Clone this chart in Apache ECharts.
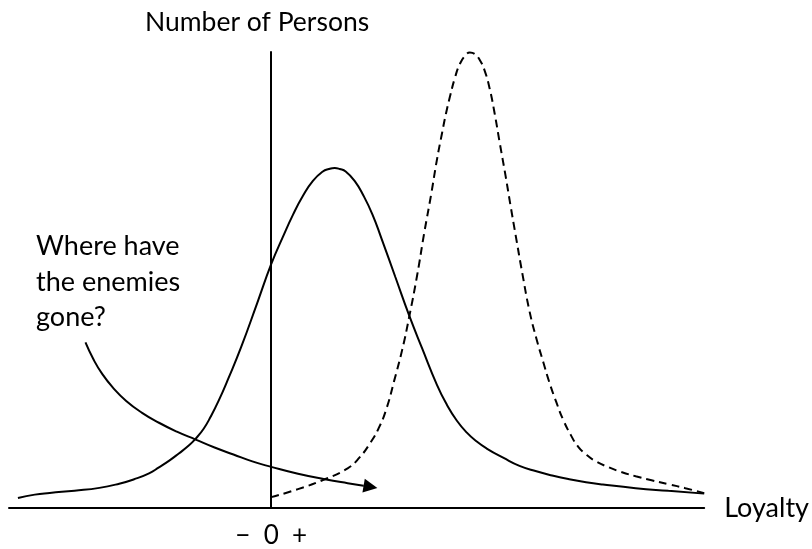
<!DOCTYPE html>
<html>
<head>
<meta charset="utf-8">
<script src="https://cdn.jsdelivr.net/npm/echarts@6/dist/echarts.min.js"></script>
<style>html,body{margin:0;padding:0;background:#fff}#c{width:812px;height:549px}</style>
</head>
<body>
<div id="c"></div>
<script>
// Loyalty distribution before (solid) and after (dashed)
var solidCurve = [
  [-25.5, 1.0], [-23.8, 1.35], [-22.3, 1.52], [-19.8, 1.75], [-17.3, 2.03], [-15.3, 2.45],
  [-13.8, 2.9], [-12.3, 3.5], [-11.3, 4.1], [-10.3, 4.75], [-9.3, 5.5], [-8.3, 6.3],
  [-7.6, 7.0], [-6.8, 8.0], [-6.1, 9.2], [-5.3, 10.8], [-4.3, 13.1], [-3.0, 16.3],
  [-1.4, 20.7], [0, 24.6], [1.2, 27.4], [2.2, 29.6], [3.2, 31.5], [4.2, 33.0],
  [5.2, 33.95], [5.8, 34.2], [6.4, 34.3], [6.9, 34.2], [7.5, 33.95], [8.4, 33.0],
  [9.3, 31.5], [10.2, 29.6], [11.1, 27.2], [12.5, 23.3], [13.9, 19.4], [15.2, 16.1],
  [16.7, 12.4], [17.7, 10.4], [18.7, 8.8], [19.7, 7.6], [20.7, 6.7], [21.7, 6.0],
  [23.4, 5.05], [25.0, 4.25], [26.7, 3.7], [28.4, 3.25], [30.0, 2.9], [31.7, 2.6],
  [33.4, 2.37], [36.7, 2.0], [40.0, 1.73], [43.6, 1.45]
];
var dashedCurve = [
  [0, 1.1], [2.7, 1.9], [5.4, 2.9], [7.7, 4.0], [8.9, 5.1], [10.0, 6.6],
  [10.8, 8.0], [11.6, 10.0], [12.4, 12.9], [13.2, 16.0], [13.9, 19.3], [14.7, 23.5],
  [15.4, 27.7], [16.1, 31.6], [16.7, 35.2], [17.2, 37.8], [17.6, 39.8], [18.0, 41.5],
  [18.5, 43.4], [19.0, 44.8], [19.5, 45.6], [20.0, 45.95], [20.5, 45.8], [21.0, 45.2],
  [21.5, 44.1], [22.0, 42.3], [22.5, 39.8], [23.0, 36.9], [23.6, 33.5], [24.1, 30.5],
  [24.6, 27.6], [25.3, 23.6], [26.0, 19.9], [26.7, 17.1], [27.4, 14.7], [28.0, 12.7],
  [28.7, 10.7], [29.4, 8.9], [30.2, 7.3], [30.9, 6.2], [31.7, 5.4], [32.7, 4.7],
  [34.0, 4.1], [35.2, 3.65], [36.7, 3.2], [38.3, 2.8], [40.0, 2.4], [41.7, 2.0],
  [43.6, 1.5]
];
var arrowPath = [
  [-18.7, 16.7], [-17.9, 15.0], [-17.0, 13.5], [-15.9, 12.1], [-14.6, 10.8], [-13.0, 9.6],
  [-11.3, 8.6], [-9.5, 7.7], [-7.6, 6.9], [-5.7, 6.1], [-3.8, 5.4], [-1.9, 4.7],
  [0, 4.15], [2.7, 3.45], [5.4, 2.9], [7.7, 2.5], [9.3, 2.25]
];
var arrowHead = [[9.3, 2.25], [10.0, 2.13]];
var xMin = -26.4, xMax = 43.6, yMin = 0, yMax = 46;
var xTickValues = [0];
var xTickLabel = '\u2212  0  +';
var xName = 'Loyalty';
var yName = 'Number of Persons';
var noteText = 'Where have\nthe enemies\ngone?';

var FONT = 'Lato';
var chart = echarts.init(document.getElementById('c'), null, {renderer: 'canvas'});
chart.setOption({
  animation: false,
  backgroundColor: '#fff',
  title: [
    {text: yName, left: 145, top: 9, padding: 0, textStyle: {fontFamily: FONT, fontSize: 26.5, fontWeight: 'normal', color: '#000'}},
    {text: noteText, left: 36, top: 229, padding: 0, textStyle: {fontFamily: FONT, fontSize: 27, fontWeight: 'normal', color: '#000', lineHeight: 35.5}}
  ],
  grid: {left: 9, right: 103, top: 52, bottom: 37},
  xAxis: {
    type: 'value', min: xMin, max: xMax,
    name: xName, nameLocation: 'end', nameGap: 20,
    nameTextStyle: {fontFamily: FONT, fontSize: 27, color: '#000', verticalAlign: 'middle', padding: [0, 0, 22, 0]},
    axisLine: {show: true, onZero: false, lineStyle: {color: '#000', width: 2}},
    axisTick: {show: false},
    splitLine: {show: false},
    axisLabel: {customValues: xTickValues, formatter: function () { return xTickLabel; }, fontFamily: FONT, fontSize: 26, color: '#000', margin: 15}
  },
  yAxis: {
    type: 'value', min: yMin, max: yMax,
    axisLine: {show: true, onZero: true, lineStyle: {color: '#000', width: 2}},
    axisTick: {show: false}, axisLabel: {show: false}, splitLine: {show: false}
  },
  series: [
    {type: 'line', data: solidCurve, smooth: true, symbol: 'none', clip: false,
     lineStyle: {color: '#000', width: 2}},
    {type: 'line', data: dashedCurve, smooth: true, symbol: 'none', clip: false,
     lineStyle: {color: '#000', width: 2, type: [8, 5]}},
    {type: 'line', data: arrowPath, smooth: true, symbol: 'none', clip: false,
     lineStyle: {color: '#000', width: 2}},
    {type: 'lines', coordinateSystem: 'cartesian2d', symbol: ['none', 'triangle'], symbolSize: 14,
     lineStyle: {color: '#000', width: 2, opacity: 1, curveness: 0},
     data: [{coords: arrowHead}]}
  ]
});
</script>
</body>
</html>
